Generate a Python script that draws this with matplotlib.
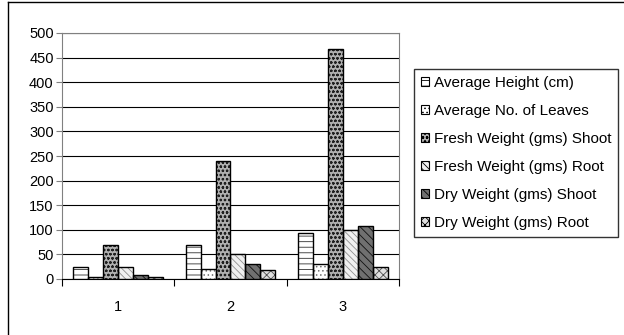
import numpy as np
import matplotlib
matplotlib.use('Agg')
import matplotlib.pyplot as plt
from matplotlib.patches import Patch
from matplotlib.lines import Line2D

plt.rcParams['font.family'] = ['Liberation Sans', 'DejaVu Sans']
plt.rcParams['hatch.linewidth'] = 0.6

# data
groups = ['1', '2', '3']
series = ['Average Height (cm)', 'Average No. of Leaves', 'Fresh Weight (gms) Shoot',
          'Fresh Weight (gms) Root', 'Dry Weight (gms) Shoot', 'Dry Weight (gms) Root']
avg_height = [25, 70, 93]
avg_leaves = [5, 20, 30]
fresh_shoot = [70, 240, 468]
fresh_root = [25, 50, 100]
dry_shoot = [8, 30, 108]
dry_root = [5, 18, 25]
values = [avg_height, avg_leaves, fresh_shoot, fresh_root, dry_shoot, dry_root]
yticks = list(range(0, 501, 50))

# (facecolor, hatch, hatch colour) per series
styles = [
    ('white', '---', '#303030'),
    ('white', '....', '#707070'),
    ('#b0b0b0', 'oooo', '#202020'),
    ('#f0f0f0', '\\\\\\\\\\', '#909090'),
    ('#707070', '\\\\\\\\', '#101010'),
    ('#e0e0e0', 'xxxx', '#505050'),
]

FS = 10.5

fig = plt.figure(figsize=(6.24, 3.35), dpi=100)
ax = fig.add_axes([62 / 624, 1 - 279 / 335, 337 / 624, 246 / 335])

x = np.arange(len(groups))
w = 0.8 / len(series)
handles = []
for i, (vals, (fc, h, hc)) in enumerate(zip(values, styles)):
    pos = x - 0.4 + w * (i + 0.5)
    ax.bar(pos, vals, w, color=fc, hatch=h, edgecolor=hc, linewidth=0, zorder=3)
    ax.bar(pos, vals, w, fill=False, edgecolor='black', linewidth=1.0, zorder=4)
    handles.append(Patch(facecolor=fc, hatch=h, edgecolor='black', linewidth=0.8))

ax.set_xlim(-0.5, 2.5)
ax.set_ylim(0, 500)
ax.set_yticks(yticks)
ax.set_yticklabels([str(t) for t in yticks], fontsize=FS)
ax.yaxis.grid(True, color='black', linewidth=0.8, zorder=0)
ax.set_axisbelow(True)

ax.set_xticks([-0.5, 0.5, 1.5, 2.5])
ax.set_xticklabels([])
ax.set_xticks(x, minor=True)
ax.set_xticklabels(groups, minor=True, fontsize=FS)
ax.tick_params(axis='x', which='major', length=5, color='black')
ax.tick_params(axis='x', which='minor', length=0, pad=15)
ax.tick_params(axis='y', length=4, pad=2, color='#808080')

for s in ['top', 'right', 'left']:
    ax.spines[s].set_color('#808080')
ax.spines['bottom'].set_color('black')

leg = fig.legend(handles, series, loc='upper left',
                 bbox_to_anchor=(414 / 624, 1 - 69 / 335),
                 fontsize=11, frameon=True, fancybox=False, shadow=False,
                 handlelength=0.55, handleheight=0.55, handletextpad=0.3,
                 labelspacing=0.92, borderpad=0.45, borderaxespad=0)
leg.get_frame().set_edgecolor('black')
leg.get_frame().set_linewidth(1.0)

# outer chart frame (clipped at right and bottom in the reference)
fig.add_artist(Line2D([7.5 / 624, 7.5 / 624], [0, 1 - 2 / 335], color='black', linewidth=1.0))
fig.add_artist(Line2D([7.5 / 624, 1], [1 - 2 / 335, 1 - 2 / 335], color='black', linewidth=1.0))

fig.savefig('out.png', dpi=100)
